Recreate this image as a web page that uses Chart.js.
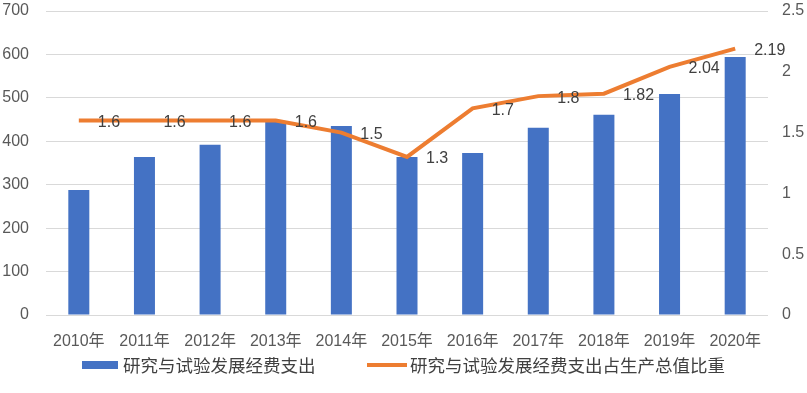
<!DOCTYPE html>
<html>
<head>
<meta charset="utf-8">
<script src="https://cdn.jsdelivr.net/npm/chart.js@4"></script>
<style>
  body { margin: 0; background: #fff; }
  #wrap { width: 807px; height: 393px; position: relative; }
</style>
</head>
<body>
<div id="wrap"><canvas id="rd"></canvas></div>
<script>
const years = ["2010年", "2011年", "2012年", "2013年", "2014年", "2015年", "2016年", "2017年", "2018年", "2019年", "2020年"];
const spending = [288, 364, 392, 445, 435, 364, 373, 431, 461, 509, 594];
const ratio = [1.6, 1.6, 1.6, 1.6, 1.5, 1.3, 1.7, 1.8, 1.82, 2.04, 2.19];
const barName = "研究与试验发展经费支出";
const lineName = "研究与试验发展经费支出占生产总值比重";

const FONT = '"Liberation Sans", "Noto Sans CJK SC", sans-serif';
const BLUE = "#4472C4";
const ORANGE = "#ED7D31";

// value labels to the right of each line point
const lineLabels = {
  id: "lineLabels",
  afterDatasetsDraw(chart) {
    const ctx = chart.ctx;
    const meta = chart.getDatasetMeta(1);
    ctx.save();
    ctx.font = "16px " + FONT;
    ctx.fillStyle = "#404040";
    ctx.textAlign = "left";
    ctx.textBaseline = "middle";
    meta.data.forEach((pt, i) => {
      ctx.fillText(String(ratio[i]), pt.x + 19, pt.y + 2);
    });
    ctx.restore();
  }
};

// legend under the axis
const bottomLegend = {
  id: "bottomLegend",
  afterDraw(chart) {
    const ctx = chart.ctx;
    const y = 365;
    ctx.save();
    ctx.fillStyle = BLUE;
    ctx.fillRect(82, y - 4, 36, 8);
    ctx.strokeStyle = ORANGE;
    ctx.lineWidth = 4;
    ctx.beginPath();
    ctx.moveTo(367, y);
    ctx.lineTo(407, y);
    ctx.stroke();
    ctx.font = '17.5px "Noto Sans CJK SC", sans-serif';
    ctx.fillStyle = "#404040";
    ctx.textAlign = "left";
    ctx.textBaseline = "middle";
    ctx.fillText(barName, 123, y);
    ctx.fillText(lineName, 410, y);
    ctx.restore();
  }
};

function noPad(s) {
  s.paddingTop = 0;
  s.paddingBottom = 0;
}

new Chart(document.getElementById("rd"), {
  data: {
    labels: years,
    datasets: [
      {
        type: "bar",
        label: barName,
        data: spending,
        backgroundColor: BLUE,
        yAxisID: "y",
        categoryPercentage: 1,
        barPercentage: 0.32,
        order: 1
      },
      {
        type: "line",
        label: lineName,
        data: ratio,
        borderColor: ORANGE,
        borderWidth: 4,
        pointRadius: 0,
        tension: 0,
        fill: false,
        yAxisID: "y1",
        order: 0
      }
    ]
  },
  options: {
    responsive: true,
    maintainAspectRatio: false,
    animation: false,
    layout: { padding: { top: 11, bottom: 33, left: 0, right: 0 } },
    plugins: {
      legend: { display: false },
      tooltip: { enabled: false }
    },
    scales: {
      x: {
        grid: { display: false },
        border: { display: false },
        ticks: { color: "#595959", font: { size: 16, family: FONT }, padding: 9, maxRotation: 0, autoSkip: false },
        afterFit(s) { s.height = 45; }
      },
      y: {
        position: "left",
        min: 0,
        max: 700,
        ticks: { stepSize: 100, color: "#595959", font: { size: 16, family: FONT }, padding: 17 },
        grid: { color: "#d9d9d9", lineWidth: 1, drawTicks: false },
        border: { display: false },
        afterFit(s) { s.width = 46; noPad(s); }
      },
      y1: {
        position: "right",
        min: 0,
        max: 2.5,
        ticks: {
          stepSize: 0.5,
          color: "#595959",
          font: { size: 16, family: FONT },
          padding: 14,
          callback: (v) => String(+v.toFixed(1))
        },
        grid: { display: false, drawTicks: false },
        border: { display: false },
        afterFit(s) { s.width = 39; noPad(s); }
      }
    }
  },
  plugins: [lineLabels, bottomLegend]
});
</script>
</body>
</html>
